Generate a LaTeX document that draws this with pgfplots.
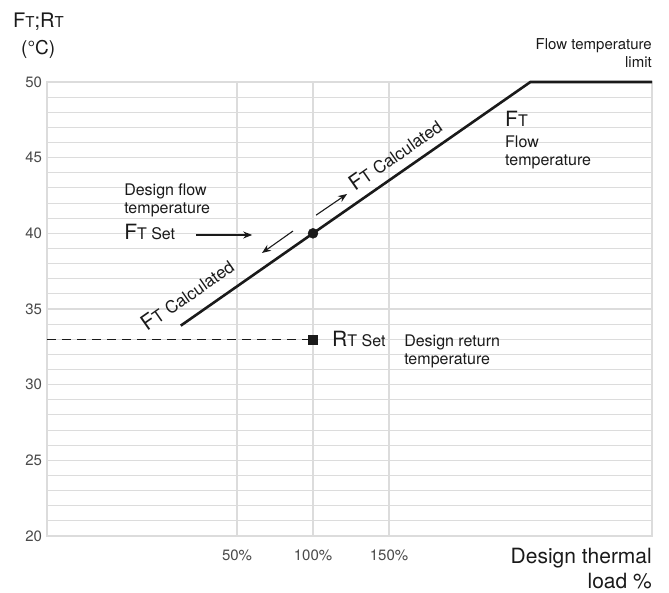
\documentclass[border=0pt]{standalone}
\usepackage{pgfplots}
\pgfplotsset{compat=1.18}
\usetikzlibrary{arrows.meta}
\usepackage{fontspec}
\setmainfont{TeX Gyre Heros}
\definecolor{gridgray}{HTML}{DCDCDC}
\definecolor{tickgray}{HTML}{4A4A4A}
\definecolor{ink}{HTML}{1A1A1A}
\newcommand{\fs}[1]{\fontsize{#1}{#1}\selectfont}
% big F with a small T, as in the reference
\newcommand{\FT}[1]{{\fs{21}F}{\fs{#1}T}}
\newcommand{\RT}[1]{{\fs{21}R}{\fs{#1}T}}
\begin{document}
\begin{tikzpicture}[every node/.style={text=ink}]
\begin{axis}[
  scale only axis, width=605pt, height=454pt,
  xmin=-75, xmax=323, ymin=20, ymax=50,
  xtick={50,100,150}, xticklabels={50\%,100\%,150\%},
  ytick={20,25,...,50}, minor ytick={21,...,49},
  grid=both,
  major grid style={draw=gridgray, line width=1.6pt},
  minor grid style={draw=gridgray, line width=1.1pt},
  axis line style={draw=gridgray, line width=1.8pt},
  major tick length=0pt, minor tick length=0pt,
  tick label style={font=\fs{15}, text=tickgray},
  xticklabel style={anchor=base, yshift=-25pt},
  yticklabel style={anchor=east, xshift=-1.5pt},
  /pgf/number format/assume math mode=true,
  clip=false,
]
\addplot[ink, line width=2.6pt, line join=miter] coordinates {(13,33.9) (100,40) (243,50) (323,50)};
\addplot[ink, line width=0.9pt, dash pattern=on 9pt off 6pt] coordinates {(-75,33) (100,33)};
\addplot[ink, only marks, mark=*, mark size=5pt] coordinates {(100,40)};
\addplot[ink, only marks, mark=square*, mark size=4.5pt] coordinates {(100,33)};

% arrows
\draw[ink, line width=1.3pt, -{Stealth[length=9pt,width=7pt]}] (axis cs:23,39.89) -- (axis cs:60,39.89);
\draw[ink, line width=1.1pt, -{Stealth[length=9pt,width=7pt]}] (axis cs:86.8,40.15) -- (axis cs:66.4,38.7);
\draw[ink, line width=1.1pt, -{Stealth[length=9pt,width=7pt]}] (axis cs:102,41.2) -- (axis cs:122.4,42.6);

% annotations
\node[anchor=base west, inner sep=0pt, font=\fs{16}] at (axis cs:-24.3,42.53) {Design flow};
\node[anchor=base west, inner sep=0pt, font=\fs{16}] at (axis cs:-24.3,41.34) {temperature};
\node[anchor=base west, inner sep=0pt] at (axis cs:-24.3,39.56) {\FT{16}{\fs{16} Set}};

\node[anchor=base west, inner sep=0pt, rotate=35] at (axis cs:-9.2,33.48) {\FT{17}{\fs{17} Calculated}};
\node[anchor=base west, inner sep=0pt, rotate=35] at (axis cs:127.6,42.73) {\FT{17}{\fs{17} Calculated}};

\node[anchor=base west, inner sep=0pt] at (axis cs:226.3,47.03) {\FT{16}};
\node[anchor=base west, inner sep=0pt, font=\fs{16}] at (axis cs:226.3,45.7) {Flow};
\node[anchor=base west, inner sep=0pt, font=\fs{16}] at (axis cs:226.3,44.5) {temperature};

\node[anchor=base west, inner sep=0pt] at (axis cs:112.5,32.49) {\RT{16}{\fs{16} Set}};
\node[anchor=base west, inner sep=0pt, font=\fs{16}] at (axis cs:159.9,32.49) {Design return};
\node[anchor=base west, inner sep=0pt, font=\fs{16}] at (axis cs:159.9,31.3) {temperature};
\end{axis}

% texts outside the axis box
\node[anchor=base east, inner sep=0pt, font=\fs{15}] at (605pt,486pt) {Flow temperature};
\node[anchor=base east, inner sep=0pt, font=\fs{15}] at (605pt,468pt) {limit};
\node[anchor=base west, inner sep=0pt, font=\fs{20}] at (-34pt,508pt) {F{\fs{15}T};R{\fs{15}T}};
\node[anchor=base west, inner sep=0pt, font=\fs{19}] at (-26pt,481pt) {(°C)};
\node[anchor=base east, inner sep=0pt, font=\fs{21}] at (605pt,-28pt) {Design thermal};
\node[anchor=base east, inner sep=0pt, font=\fs{21}] at (605pt,-53pt) {load \%};

\pgfresetboundingbox
\path (-47pt,-57pt) rectangle (622pt,536pt);
\end{tikzpicture}
\end{document}
